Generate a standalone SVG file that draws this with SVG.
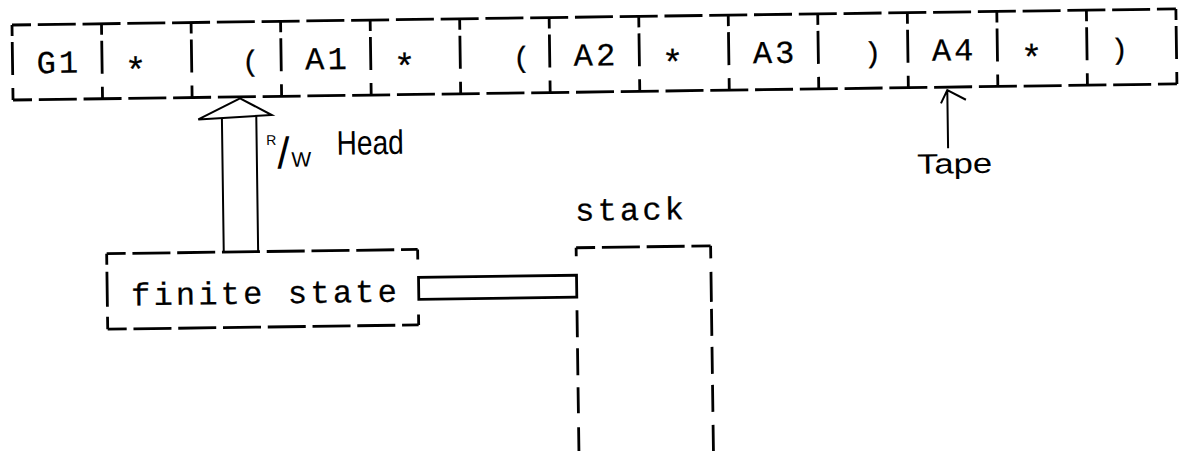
<svg xmlns="http://www.w3.org/2000/svg" width="1184" height="451" viewBox="0 0 1184 451">
<style>
.ln{stroke:#000;stroke-width:2.8;fill:none;stroke-linecap:butt}
.dh{stroke-dasharray:38 6.77;stroke-dashoffset:19}
.thin{stroke:#000;stroke-width:2;fill:none;stroke-linejoin:miter}
.tw{font-family:"Liberation Mono","DejaVu Sans Mono",monospace;font-size:32px;letter-spacing:3.2px;fill:#000;stroke:#000;stroke-width:0.25px}
.one{font-family:"Liberation Mono","DejaVu Sans Mono",monospace;font-size:30px;text-anchor:middle;fill:#000;stroke:#000;stroke-width:0.25px}
.ast{font-size:36px}
.par{font-size:29px}
.hw{font-family:"Liberation Sans",Arial,sans-serif;fill:#000}
</style>
<rect width="1184" height="451" fill="#fff"/>
<g transform="rotate(-0.79 12 25)">
<g id="tape">
<path class="ln dh" d="M12,25H1176M12,100H1176"/>
<path class="ln" d="M12,25V36M12,42V75M12,88V100M101.5,25V36M101.5,42V75M101.5,88V100M191.1,25V36M191.1,42V75M191.1,88V100M280.6,25V36M280.6,42V75M280.6,88V100M370.2,25V36M370.2,42V75M370.2,88V100M459.7,25V36M459.7,42V75M459.7,88V100M549.2,25V36M549.2,42V75M549.2,88V100M638.8,25V36M638.8,42V75M638.8,88V100M728.3,25V36M728.3,42V75M728.3,88V100M817.8,25V36M817.8,42V75M817.8,88V100M907.4,25V36M907.4,42V75M907.4,88V100M996.9,25V36M996.9,42V75M996.9,88V100M1086.5,25V36M1086.5,42V75M1086.5,88V100M1176,25V36M1176,42V75M1176,88V100"/>
<text class="tw" x="36" y="73.5">G1</text>
<text class="one ast" x="135" y="84">*</text>
<text class="one par" x="250" y="74">(</text>
<text class="tw" x="304.6" y="73.5">A1</text>
<text class="one ast" x="404" y="84">*</text>
<text class="one par" x="521" y="74">(</text>
<text class="tw" x="573.2" y="73.5">A2</text>
<text class="one ast" x="672" y="84">*</text>
<text class="tw" x="752.3" y="73.5">A3</text>
<text class="one par" x="872" y="74">)</text>
<text class="tw" x="931.4" y="73.5">A4</text>
<text class="one ast" x="1031" y="84">*</text>
<text class="one par" x="1119" y="74">)</text>
</g>
<g id="finite-state">
<path class="ln dh" d="M103.5,255H414.5M103.5,330.5H414.5"/>
<path class="ln" d="M103.5,255V266M103.5,273V308M103.5,318V330.5M414.5,255V265M414.5,320V330.5"/>
<text class="tw" x="127.4" y="307">finite state</text>
</g>
<g id="stack">
<path class="ln dh" d="M573,255.5H707.5"/>
<path class="ln" d="M707.5,255.5V268M707.5,281.5V311.5M707.5,318.5V345.5M707.5,356.5V383.5M707.5,394.5V421.5M707.5,434.5V461.5M573,255.5V264M573,318V345M573,356V383M573,395V421M573,435V461"/>
<text class="tw" x="572.5" y="228.5">stack</text>
</g>
<g id="connectors">
<g id="rw-head-arrow">
<path class="thin" d="M220.6,120.9V255M255,119.3V255"/>
<path class="thin" d="M239,101.5L270.5,118.6L197,122Z" fill="#fff"/>
</g>
<rect id="stack-link" class="ln" x="415" y="283" width="158" height="22" fill="#fff"/>
<path id="tape-pointer" class="thin" d="M946.3,103V161.2M939.8,116.2L946.3,103L964.8,112.9"/>
</g>
<g id="label-rw-head">
<text class="hw"><tspan x="264.5" y="148.6" font-size="14">R</tspan><tspan x="275.5" y="172" font-size="44">/</tspan><tspan x="289.5" y="170.6" font-size="21">W</tspan><tspan x="335" y="159.2" font-size="34" textLength="67" lengthAdjust="spacingAndGlyphs">Head</tspan></text>
</g>
<g id="label-tape">
<text class="hw" x="915" y="186.2" font-size="28" textLength="75" lengthAdjust="spacingAndGlyphs">Tape</text>
</g>
</g>
</svg>
